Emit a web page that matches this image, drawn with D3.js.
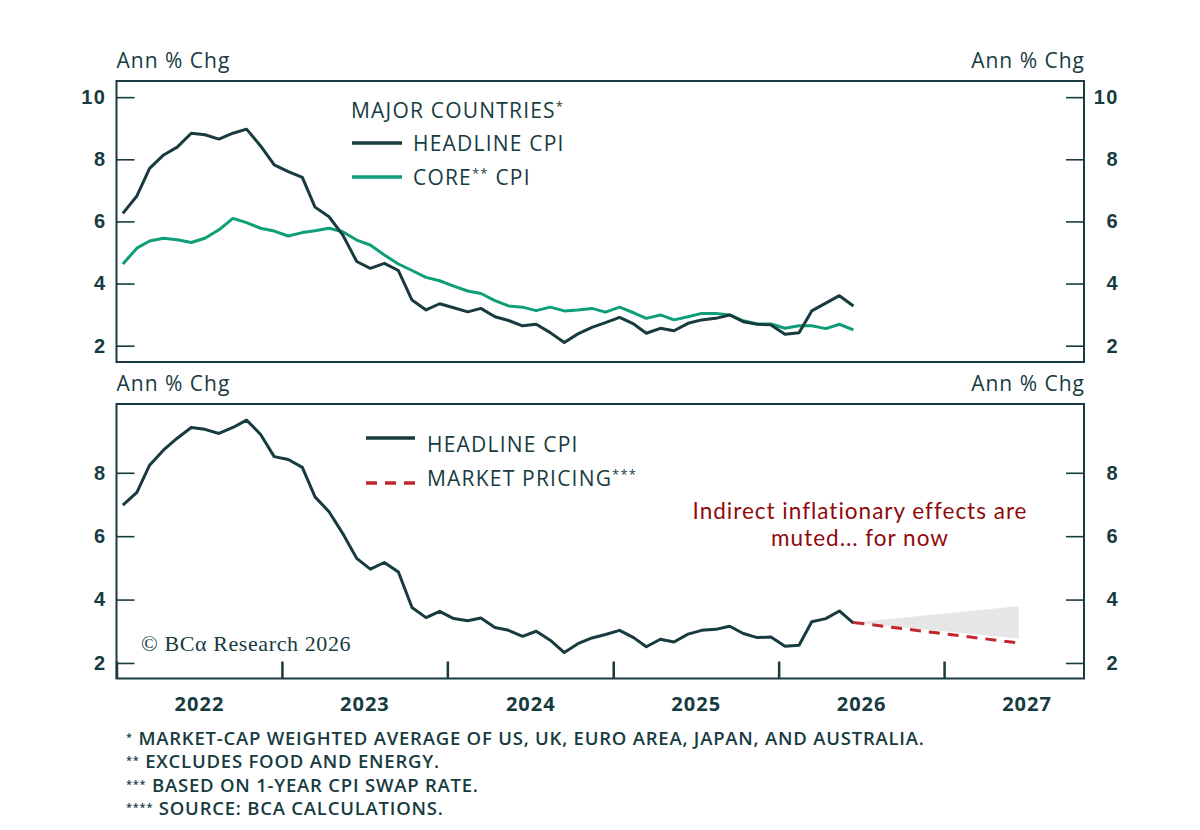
<!DOCTYPE html>
<html>
<head>
<meta charset="utf-8">
<script src="https://cdn.jsdelivr.net/npm/d3@7"></script>
<style>
  body { margin: 0; background: #fff; }
  svg { display: block; font-family: "Open Sans", Lato, sans-serif; }
</style>
</head>
<body>
<div class="vis"></div>
<script>
// monthly values, Jan 2022 .. Jun 2026
const headlineTop = [6.26, 6.82, 7.71, 8.14, 8.39, 8.84, 8.79, 8.65, 8.84, 8.97, 8.43, 7.82,
  7.60, 7.42, 6.46, 6.15, 5.57, 4.71, 4.49, 4.65, 4.42, 3.47, 3.15, 3.35,
  3.22, 3.09, 3.20, 2.93, 2.81, 2.64, 2.69, 2.42, 2.10, 2.38, 2.59, 2.74,
  2.91, 2.70, 2.40, 2.56, 2.48, 2.72, 2.83, 2.88, 2.99, 2.77, 2.69, 2.67,
  2.37, 2.42, 3.12, 3.37, 3.61, 3.28];
const coreTop = [4.63, 5.14, 5.37, 5.46, 5.41, 5.32, 5.46, 5.73, 6.10, 5.96, 5.78, 5.69,
  5.53, 5.64, 5.70, 5.78, 5.67, 5.40, 5.24, 4.92, 4.63, 4.42, 4.20, 4.09,
  3.92, 3.76, 3.68, 3.45, 3.28, 3.24, 3.13, 3.24, 3.12, 3.15, 3.20, 3.08,
  3.24, 3.06, 2.88, 2.99, 2.83, 2.93, 3.04, 3.04, 2.99, 2.80, 2.70, 2.70,
  2.56, 2.64, 2.64, 2.55, 2.69, 2.51];
const headlineBottom = [6.98, 7.38, 8.24, 8.72, 9.09, 9.43, 9.37, 9.24, 9.43, 9.66, 9.21, 8.51,
  8.42, 8.17, 7.24, 6.77, 6.09, 5.30, 4.96, 5.17, 4.87, 3.75, 3.43, 3.63,
  3.40, 3.33, 3.42, 3.12, 3.03, 2.84, 3.00, 2.72, 2.33, 2.61, 2.79, 2.90,
  3.03, 2.80, 2.51, 2.75, 2.66, 2.91, 3.03, 3.06, 3.16, 2.93, 2.80, 2.82,
  2.53, 2.56, 3.30, 3.40, 3.64, 3.26];
// market pricing path, Jun 2026 .. Jun 2027
const pricingMonths = ["2026-06", "2026-12", "2027-06"];
const pricing = [3.28, 2.95, 2.63];
// shaded range at the end of the pricing horizon
const bandMonths = ["2026-06", "2027-06"];
const bandLow = [3.28, 2.77];
const bandHigh = [3.28, 3.79];

const years = [2022, 2023, 2024, 2025, 2026, 2027];
const topTicks = [2, 4, 6, 8, 10];
const bottomTicks = [2, 4, 6, 8];
const footnotes = [
  ["*", "MARKET-CAP WEIGHTED AVERAGE OF US, UK, EURO AREA, JAPAN, AND AUSTRALIA."],
  ["**", "EXCLUDES FOOD AND ENERGY."],
  ["***", "BASED ON 1-YEAR CPI SWAP RATE."],
  ["****", "SOURCE: BCA CALCULATIONS."]
];

const ink = "#173b3f", green = "#0e9f78", red = "#c1272d", darkRed = "#8e0a0c";
const W = 1200, H = 830;
const L = 116.5, R = 1084, yearW = 165.5;

const months = headlineTop.map((d, i) => new Date(2022, i, 15));
const parseMonth = s => { const [y, m] = s.split("-").map(Number); return new Date(y, m - 1, 15); };

const svg = d3.select(".vis").append("svg").attr("width", W).attr("height", H);

const x = d3.scaleTime()
  .domain([new Date(2022, 0, 1), new Date(2028, 0, 1)])
  .range([L, L + 6 * yearW]);

svg.append("defs").selectAll("clipPath").data(["top", "bot"]).join("clipPath")
  .attr("id", d => `clip-${d}`)
  .append("rect");

const makePanel = (name, top, bottom, domain, ticks) => {
  const y = d3.scaleLinear().domain(domain).range([bottom, top]);
  const g = svg.append("g").attr("class", `panel-${name}`);
  d3.select(`#clip-${name} rect`).attr("x", L).attr("y", top).attr("width", R - L).attr("height", bottom - top);

  g.append("g").attr("transform", `translate(${L},0)`)
    .call(d3.axisLeft(y).tickValues(ticks).tickSize(-18).tickPadding(10))
    .call(a => a.select(".domain").remove());
  g.append("g").attr("transform", `translate(${R},0)`)
    .call(d3.axisRight(y).tickValues(ticks).tickSize(-18).tickPadding(35))
    .call(a => a.select(".domain").remove())
    .call(a => a.selectAll("text").attr("text-anchor", "end"));
  g.selectAll(".tick line").attr("stroke", ink).attr("stroke-width", 1.6);
  g.selectAll(".tick text").attr("fill", ink).style("font-size", "20px").style("font-weight", 600)
    .style("letter-spacing", "1.5px");

  [[L, "start"], [R, "end"]].forEach(([xx, anchor]) => g.append("text")
    .attr("x", anchor === "end" ? xx + 1 : xx).attr("y", top - 13).attr("text-anchor", anchor).text("Ann % Chg")
    .attr("fill", ink).style("font-size", "21px").style("font-weight", 500).style("letter-spacing", "1px"));

  const plot = g.append("g").attr("clip-path", `url(#clip-${name})`);
  return { y, g, plot, top, bottom };
};

const line = y => d3.line().x((d, i) => x(months[i])).y(d => y(d));

// top panel
const pt = makePanel("top", 81, 362, [1.475, 10.52], topTicks);
pt.plot.append("path").datum(coreTop).attr("d", line(pt.y))
  .attr("fill", "none").attr("stroke", green).attr("stroke-width", 3).attr("stroke-linejoin", "round");
pt.plot.append("path").datum(headlineTop).attr("d", line(pt.y))
  .attr("fill", "none").attr("stroke", ink).attr("stroke-width", 3).attr("stroke-linejoin", "round");

// bottom panel
const pb = makePanel("bot", 404, 678.5, [1.51, 10.17], bottomTicks);
const band = bandMonths.map((m, i) => ({ t: parseMonth(m), lo: bandLow[i], hi: bandHigh[i] }));
pb.plot.append("path").datum(band)
  .attr("d", d3.area().x(d => x(d.t)).y0(d => pb.y(d.lo)).y1(d => pb.y(d.hi)))
  .attr("fill", "#e6e6e6");
pb.plot.append("path").datum(headlineBottom).attr("d", line(pb.y))
  .attr("fill", "none").attr("stroke", ink).attr("stroke-width", 3).attr("stroke-linejoin", "round");
pb.plot.append("path").datum(pricing.map((v, i) => [parseMonth(pricingMonths[i]), v]))
  .attr("d", d3.line().x(d => x(d[0])).y(d => pb.y(d[1])))
  .attr("fill", "none").attr("stroke", red).attr("stroke-width", 3).attr("stroke-dasharray", "11,8");

// year ticks + labels on the bottom panel
const xa = pb.g.append("g").attr("transform", `translate(0,${pb.bottom})`)
  .call(d3.axisBottom(x).tickValues(years.map(yr => new Date(yr, 0, 1))).tickSize(-17).tickFormat(""))
  .call(a => a.select(".domain").remove());
xa.selectAll(".tick line").attr("stroke", ink).attr("stroke-width", 2.5);
pb.g.selectAll("text.year").data(years).join("text").attr("class", "year")
  .attr("x", d => x(new Date(d, 6, 2)) + 0.5).attr("y", 711)
  .attr("text-anchor", "middle").attr("fill", ink)
  .style("font-size", "20px").style("font-weight", 700).style("letter-spacing", "1px").text(d => d);

// frames
[pt, pb].forEach(p => svg.append("rect")
  .attr("x", L).attr("y", p.top).attr("width", R - L).attr("height", p.bottom - p.top)
  .attr("fill", "none").attr("stroke", ink).attr("stroke-width", 2));

// legends
const sup = (t, main, star) => { t.append("tspan").text(main); t.append("tspan").text(star).attr("dy", -7).style("font-size", "13px"); };
const lgTop = svg.append("g").attr("fill", ink).style("font-size", "21px").style("font-weight", 500).style("letter-spacing", "1.2px");
lgTop.append("text").attr("x", 351).attr("y", 118).call(t => sup(t, "MAJOR COUNTRIES", "*"));
lgTop.append("line").attr("x1", 352).attr("x2", 402).attr("y1", 143).attr("y2", 143).attr("stroke", ink).attr("stroke-width", 3.5);
lgTop.append("text").attr("x", 413).attr("y", 151).text("HEADLINE CPI");
lgTop.append("line").attr("x1", 352).attr("x2", 402).attr("y1", 177).attr("y2", 177).attr("stroke", green).attr("stroke-width", 3.5);
lgTop.append("text").attr("x", 413).attr("y", 185).call(t => {
  t.append("tspan").text("CORE"); t.append("tspan").text("**").attr("dy", -7).style("font-size", "13px");
  t.append("tspan").text(" CPI").attr("dy", 7);
});

const lgBot = svg.append("g").attr("fill", ink).style("font-size", "21px").style("font-weight", 500).style("letter-spacing", "1.2px");
lgBot.append("line").attr("x1", 366).attr("x2", 415).attr("y1", 438).attr("y2", 438).attr("stroke", ink).attr("stroke-width", 3.5);
lgBot.append("text").attr("x", 427).attr("y", 452).text("HEADLINE CPI");
lgBot.append("line").attr("x1", 366).attr("x2", 415).attr("y1", 483).attr("y2", 483).attr("stroke", red).attr("stroke-width", 3.5).attr("stroke-dasharray", "11,8");
lgBot.append("text").attr("x", 427).attr("y", 486).call(t => sup(t, "MARKET PRICING", "***"));

// annotation (Lato: tighter line box so the two lines stay apart)
[["Indirect inflationary effects are", 519], ["muted... for now", 546]].forEach(([s, yy]) =>
  svg.append("text").attr("x", 860).attr("y", yy).attr("text-anchor", "middle").attr("fill", darkRed)
    .style("font-family", "Lato, 'Open Sans', sans-serif")
    .style("font-size", "22.5px").style("letter-spacing", "1px").text(s));

// copyright
svg.append("text").attr("x", 141).attr("y", 651).attr("fill", ink)
  .style("font-family", "'Liberation Serif', 'DejaVu Serif', serif").style("font-size", "22px")
  .style("letter-spacing", "0.6px")
  .text("© BCα Research 2026");

// footnotes
svg.selectAll("text.fn").data(footnotes).join("text").attr("class", "fn")
  .attr("x", 126).attr("y", (d, i) => 744.5 + i * 23.5).attr("fill", ink)
  .style("font-size", "18.5px").style("font-weight", 600).style("letter-spacing", "0.78px")
  .call(t => {
    t.append("tspan").text(d => d[0]).attr("dy", -4).style("font-size", "11px");
    t.append("tspan").text(d => " " + d[1]).attr("dy", 4);
  });
</script>
</body>
</html>
